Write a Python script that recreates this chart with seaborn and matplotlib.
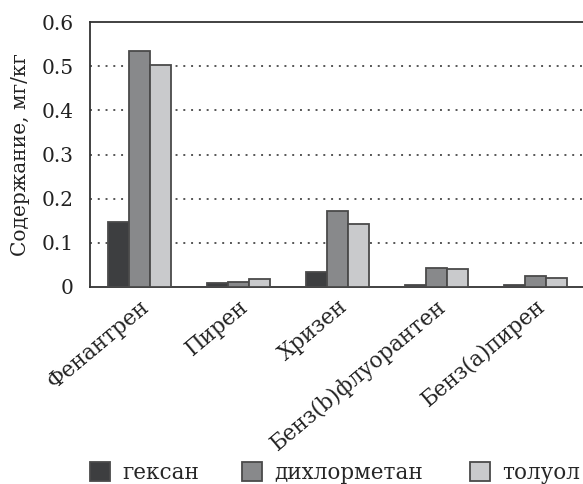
import matplotlib
matplotlib.use("Agg")
import matplotlib.pyplot as plt
import seaborn as sns
import pandas as pd
from matplotlib.patches import Patch

categories = ["Фенантрен", "Пирен", "Хризен", "Бенз(b)флуорантен", "Бенз(a)пирен"]
series = ["гексан", "дихлорметан", "толуол"]
hexane = [0.147, 0.008, 0.034, 0.005, 0.004]
dcm = [0.534, 0.012, 0.172, 0.044, 0.024]
toluene = [0.503, 0.018, 0.143, 0.041, 0.020]
yticks = [0, 0.1, 0.2, 0.3, 0.4, 0.5, 0.6]
ytick_labels = ["0", "0.1", "0.2", "0.3", "0.4", "0.5", "0.6"]
ylabel = "Содержание, мг/кг"

colors = ["#3d3e40", "#88898b", "#c9cacc"]
edge = "#4a4a4a"

rows = []
for name, vals in zip(series, [hexane, dcm, toluene]):
    for c, v in zip(categories, vals):
        rows.append({"cat": c, "solvent": name, "value": v})
df = pd.DataFrame(rows)

sns.set_style("white")
plt.rcParams["font.family"] = ["DejaVu Serif"]
plt.rcParams["font.size"] = 14

fig = plt.figure(figsize=(5.83, 4.84), dpi=100)
ax = fig.add_axes([90 / 583, 1 - 287 / 484, 495 / 583, 265 / 484])

sns.barplot(data=df, x="cat", y="value", hue="solvent", order=categories,
            hue_order=series, palette=colors, width=0.64, gap=0,
            edgecolor=edge, linewidth=1.3, ax=ax, legend=False, zorder=3)

ax.set_xlim(-0.5, 4.5)
ax.set_ylim(0, 0.6)
ax.set_yticks(yticks)
ax.set_yticklabels(ytick_labels, fontsize=14.5, color="#222222")
ax.set_xlabel("")
ax.set_ylabel(ylabel, fontsize=14.5, color="#222222", labelpad=8)

for y in yticks[1:-1]:
    ax.axhline(y, color="#555555", linestyle=(0, (1, 3)), linewidth=1.4, zorder=1)

ax.set_xticks([i - 0.5 for i in range(6)], minor=False)
ax.set_xticklabels([""] * 6)
ax.set_xticks(range(5), minor=True)
ax.set_xticklabels(categories, minor=True, rotation=40, ha="right",
                   rotation_mode="anchor", fontsize=15.5, color="#222222")
ax.tick_params(axis="x", which="minor", length=0, pad=6)
ax.tick_params(axis="x", which="major", length=8, width=1.3, color="#333333", direction="out")
ax.tick_params(axis="y", length=8, width=1.3, color="#333333", direction="out", pad=4)
for i, t in enumerate(ax.yaxis.get_major_ticks()):
    if 0 < i < len(yticks) - 1:
        t.tick1line.set_visible(False)

for s in ["left", "bottom", "top"]:
    ax.spines[s].set_visible(True)
    ax.spines[s].set_color("#333333")
    ax.spines[s].set_linewidth(1.3)
ax.spines["right"].set_visible(False)

legend_x = [90, 242, 470]
for name, c, x in zip(series, colors, legend_x):
    h = Patch(facecolor=c, edgecolor=edge, linewidth=1.3)
    fig.legend([h], [name], loc="center left", bbox_to_anchor=(x / 583, 1 - 473 / 484),
               frameon=False, fontsize=15.5, handlelength=0.93, handleheight=0.95,
               handletextpad=0.55, borderpad=0, borderaxespad=0)

fig.savefig("out.png", dpi=100)
